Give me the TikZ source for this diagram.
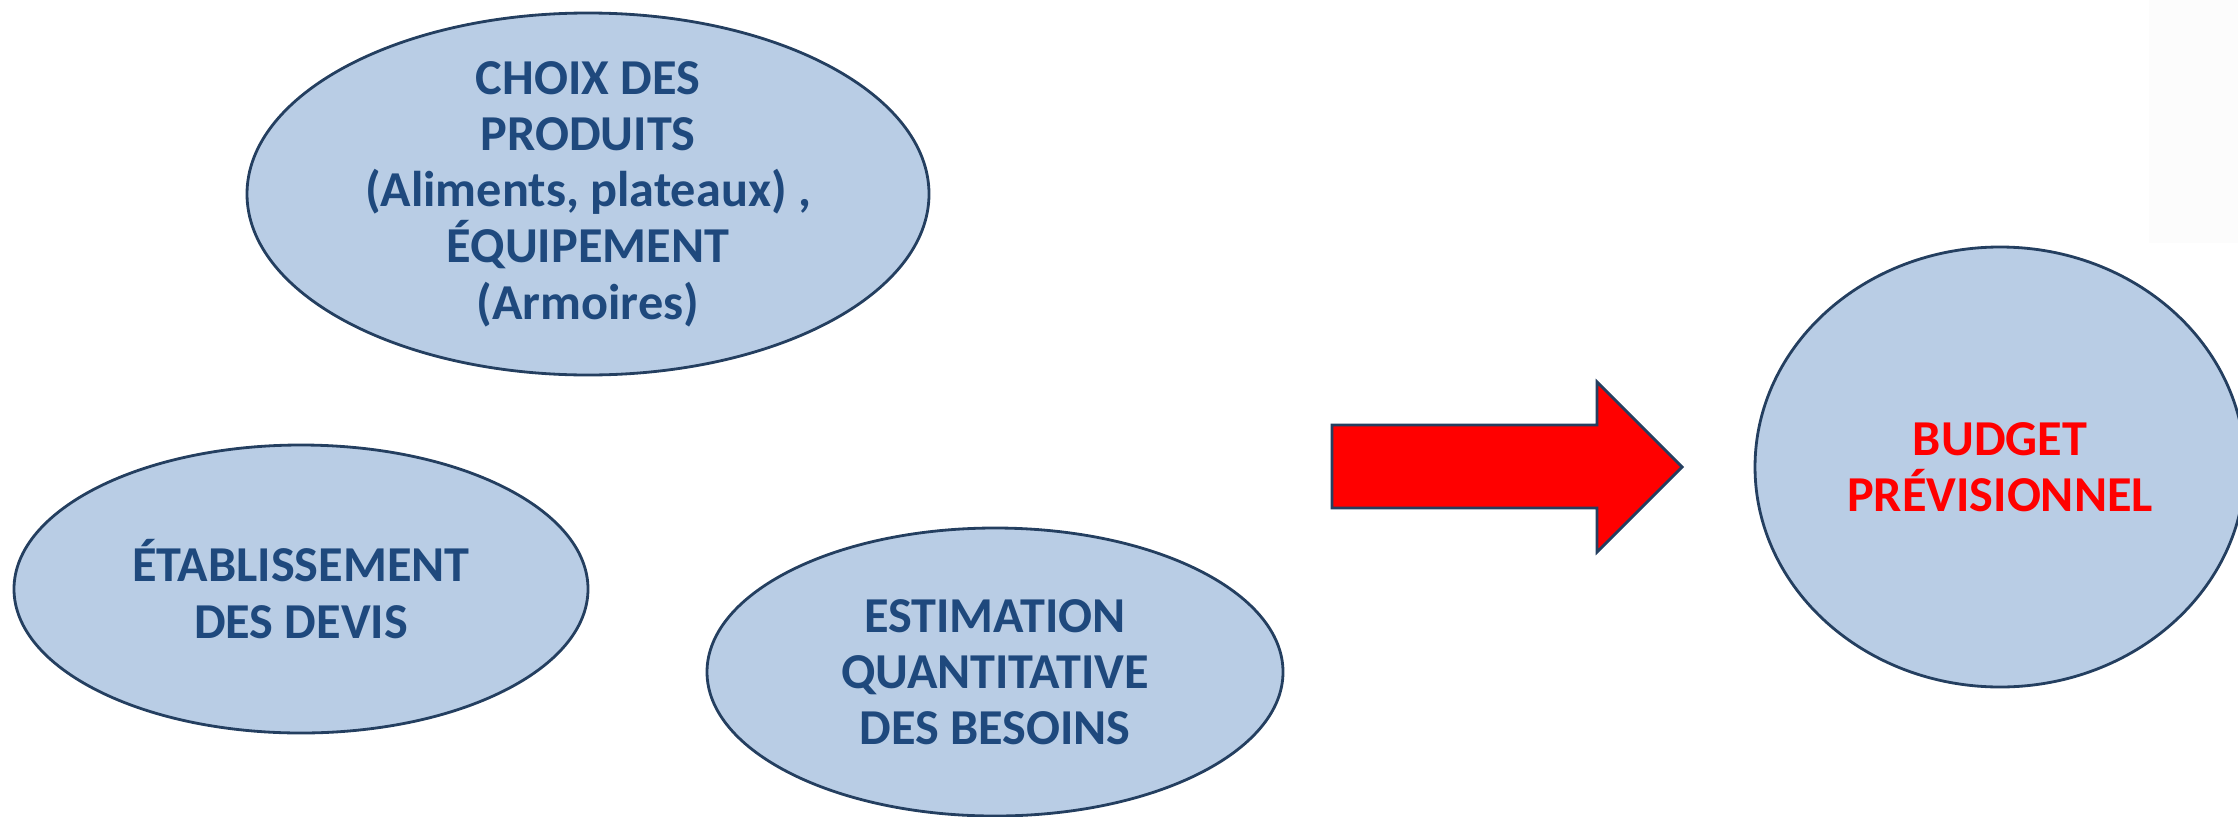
\documentclass[tikz,border=0pt]{standalone}
\usepackage{fontspec}
\setmainfont{Carlito}
\usepackage{xcolor}
\usepackage{tikz}
\usetikzlibrary{shapes.geometric,positioning,calc}

\definecolor{bulle}{HTML}{B9CDE5}
\definecolor{contour}{HTML}{243F60}
\definecolor{texte}{HTML}{1F497D}
\definecolor{rouge}{HTML}{FF0000}

\tikzset{
    bulle/.style={ellipse, draw=contour, fill=bulle, line width=0.8pt, inner sep=0pt},
    etiquette/.style={align=center, text=texte, font=\bfseries\fontsize{14.3}{16}\selectfont},
    fleche/.style={draw=contour, fill=rouge, line width=0.8pt, line join=miter}
}

\begin{document}
\begin{tikzpicture}
    \useasboundingbox (0,0) rectangle (22.38,8.16);
    \clip (0,0) rectangle (22.38,8.16);

    % fond pale en haut a droite
    \fill[white!99!black] (21.49,5.73) rectangle (22.38,8.16);

    % choix des produits
    \node[bulle, minimum width=6.82cm, minimum height=3.62cm] (choix) at (5.88,6.22) {};
    \node[etiquette] (choix-txt) at (choix) {CHOIX DES\\PRODUITS\\(Aliments, plateaux) ,\\ÉQUIPEMENT\\(Armoires)};

    % devis
    \node[bulle, minimum width=5.74cm, minimum height=2.88cm] (devis) at (3.01,2.27) {};
    \node[etiquette] (devis-txt) at (devis) {ÉTABLISSEMENT\\DES DEVIS};

    % besoins
    \node[bulle, minimum width=5.76cm, minimum height=2.88cm] (besoins) at (9.95,1.44) {};
    \node[etiquette] (besoins-txt) at (besoins) {ESTIMATION\\QUANTITATIVE\\DES BESOINS};

    % budget
    \node[bulle, minimum width=4.90cm, minimum height=4.40cm] (budget) at (20.00,3.49) {};
    \node[etiquette, text=rouge] (budget-txt) at (budget) {BUDGET\\PRÉVISIONNEL};

    % grosse fleche
    \draw[fleche] (13.32,3.91) -- (15.97,3.91) -- (15.97,4.34) -- (16.82,3.49)
        -- (15.97,2.64) -- (15.97,3.08) -- (13.32,3.08) -- cycle;
\end{tikzpicture}
\end{document}
